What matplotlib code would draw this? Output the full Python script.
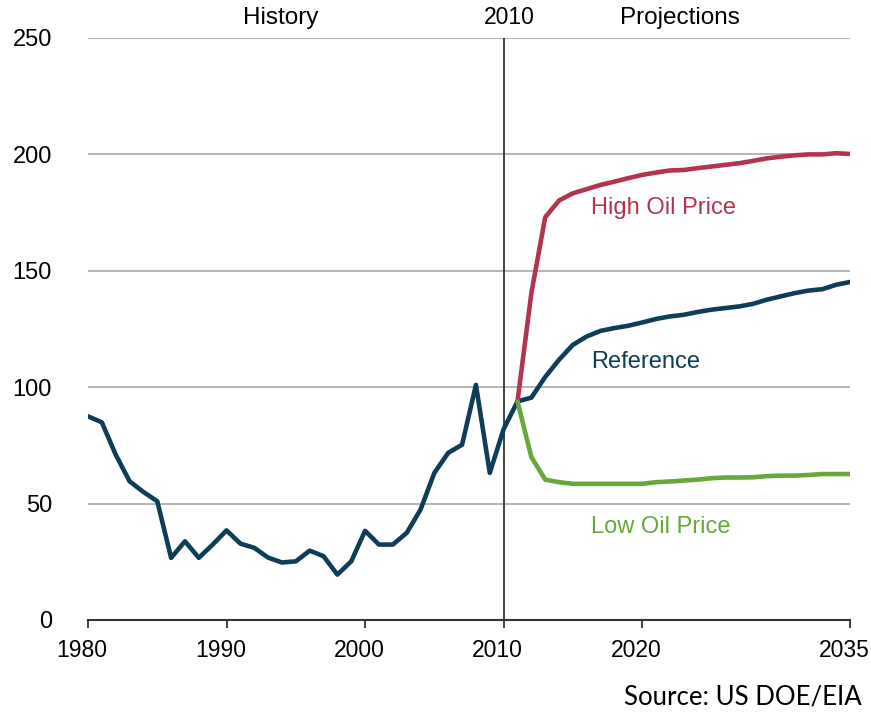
import matplotlib
matplotlib.use("Agg")
import matplotlib.pyplot as plt
import matplotlib.transforms as mtransforms

plt.rcParams['font.family'] = ['Liberation Sans', 'DejaVu Sans']

hist_years = list(range(1980, 2012))
hist_values = [87.5, 84.9, 71.0, 59.6, 55.0, 51.0, 26.7, 33.8, 26.7, 32.4,
               38.5, 32.8, 31.0, 26.8, 24.7, 25.2, 29.8, 27.4, 19.5, 25.2,
               38.3, 32.4, 32.4, 37.4, 47.4, 63.2, 71.8, 75.3, 101.0, 63.2,
               82.0, 93.9]

proj_years = list(range(2011, 2036))
reference = [93.9, 95.5, 104.4, 111.8, 118.2, 121.8, 124.2, 125.4, 126.4, 127.8,
             129.3, 130.4, 131.1, 132.3, 133.3, 134.0, 134.7, 135.8, 137.6, 139.0,
             140.4, 141.5, 142.1, 144.0, 145.2]
high_price = [93.9, 140.4, 173.0, 180.2, 183.3, 185.1, 186.9, 188.3, 189.8, 191.2,
              192.2, 193.1, 193.3, 194.1, 194.8, 195.5, 196.2, 197.2, 198.3, 199.0,
              199.6, 200.0, 200.0, 200.5, 200.2]
low_price = [93.9, 70.0, 60.3, 59.2, 58.5, 58.5, 58.5, 58.5, 58.5, 58.5,
             59.2, 59.5, 59.9, 60.3, 60.9, 61.2, 61.2, 61.3, 61.8, 62.0,
             62.0, 62.3, 62.7, 62.7, 62.7]

x_ticks = [1980, 1990, 2000, 2010, 2020, 2035]
y_ticks = [0, 50, 100, 150, 200, 250]

navy = '#0E3D58'
red = '#B2344F'
green = '#68A83A'

fig = plt.figure(figsize=(8.71, 7.13), dpi=100)
ax = fig.add_axes([88/871, 1-620/713, (850-88)/871, (620-38)/713])

for v in y_ticks[1:]:
    ax.axhline(v, color='#A8A8A8', lw=1.2, zorder=1)

ax.axvline(2010, color='#333333', lw=1.3, zorder=2)

kw = dict(lw=3.3, solid_capstyle='round', solid_joinstyle='round')
ax.plot(hist_years, hist_values, color=navy, zorder=3, **kw)
ax.plot(proj_years, reference, color=navy, zorder=3, **kw)
ax.plot(proj_years, high_price, color=red, zorder=4, **kw)
ax.plot(proj_years, low_price, color=green, zorder=4, **kw)

ax.set_xlim(1980, 2035)
ax.set_ylim(0, 250)
ax.set_xticks(x_ticks)
ax.set_yticks(y_ticks)
ax.set_xticklabels([str(t) for t in x_ticks], fontsize=16.5)
ax.set_yticklabels([str(t) for t in y_ticks], fontsize=17)
for s in ['top', 'right', 'left']:
    ax.spines[s].set_visible(False)
ax.spines['bottom'].set_color('#333333')
ax.spines['bottom'].set_linewidth(1.5)
ax.tick_params(axis='x', direction='out', length=6, width=1.3, color='#333333', pad=8)
ax.tick_params(axis='y', length=0, pad=26)

shift = mtransforms.ScaledTranslation(-6/100, 0, fig.dpi_scale_trans)
for lab in ax.get_xticklabels():
    lab.set_transform(lab.get_transform() + shift)

ax.text(1993.9, 258.6, 'History', ha='center', va='center', fontsize=17.5, clip_on=False)
ax.text(2010.4, 258.6, '2010', ha='center', va='center', fontsize=16.5, clip_on=False)
ax.text(2022.7, 258.6, 'Projections', ha='center', va='center', fontsize=17.5, clip_on=False)

ax.text(2016.3, 177, 'High Oil Price', color=red, fontsize=17, ha='left', va='center')
ax.text(2016.3, 111, 'Reference', color=navy, fontsize=17, ha='left', va='center')
ax.text(2016.3, 40, 'Low Oil Price', color=green, fontsize=17, ha='left', va='center')

fig.text(862/871, 1-697/713, 'Source: US DOE/EIA', ha='right', va='center', fontsize=18.5, family=['Lato', 'DejaVu Sans'])

fig.savefig('out.png', dpi=100)
